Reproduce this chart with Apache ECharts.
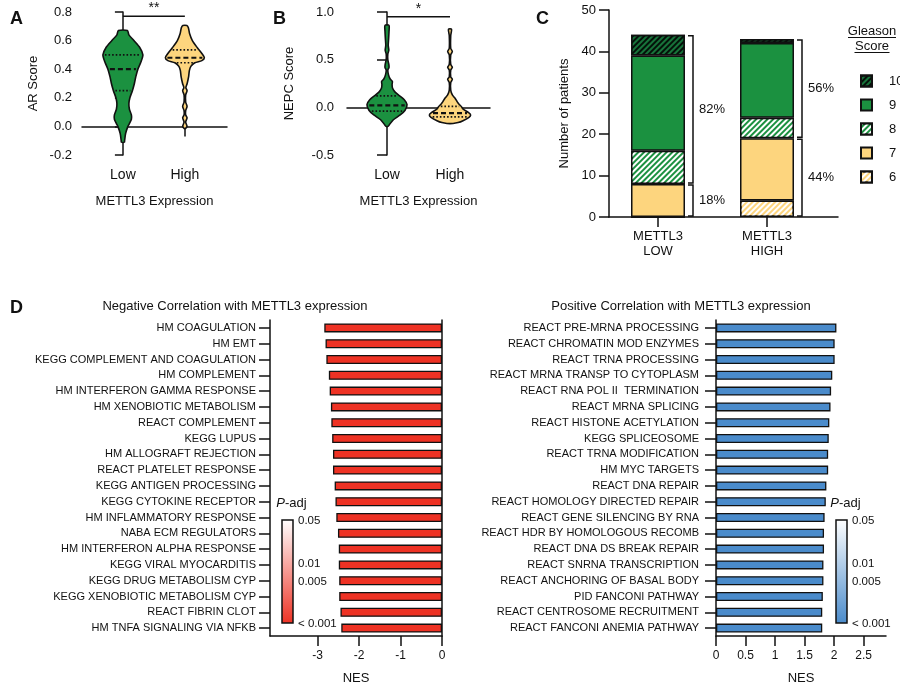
<!DOCTYPE html>
<html><head><meta charset="utf-8">
<script src="https://cdn.jsdelivr.net/npm/echarts@6/dist/echarts.min.js"></script>
<style>html,body{margin:0;padding:0;background:#fff}#c{width:900px;height:688px}</style>
</head><body><div id="c"></div>
<script>
// ---------- DATA ----------
const violinGroups = ['Low', 'High'];
// violin profiles: [score, relative density]
const arLowProfile = [[0.67,4.5],[0.64,6],[0.6,11],[0.55,17],[0.5,20],[0.45,18],[0.4,15],[0.35,13],[0.3,11.5],[0.25,9.5],[0.2,7],[0.16,6],[0.12,6.5],[0.08,8.5],[0.05,8.5],[0.02,6.5],[0.0,5],[-0.05,2.7],[-0.1,1.7],[-0.11,1.5]];
const arHighProfile = [[0.705,2],[0.69,3.5],[0.65,4.7],[0.6,7.5],[0.55,12.5],[0.51,17],[0.48,19.5],[0.46,17],[0.445,10],[0.42,6],[0.39,4.5],[0.35,3.8],[0.3,2.3],[0.27,1],[0.25,2.2],[0.22,0.8],[0.17,0.8],[0.14,2.2],[0.11,0.8],[0.08,0.8],[0.06,2.2],[0.03,0.8],[0.0,2.2],[-0.015,0.5]];
const arQuartiles = [[0.25,0.40,0.50],[0.445,0.48,0.535]];
const nepcLowProfile = [[0.86,2],[0.8,2],[0.72,1.6],[0.65,1.2],[0.6,1.8],[0.56,0.8],[0.5,0.8],[0.45,1.8],[0.42,2],[0.39,0.8],[0.34,1.5],[0.3,3],[0.27,5.3],[0.24,5],[0.2,5.5],[0.16,8],[0.12,12.5],[0.08,17],[0.03,19.7],[-0.03,17.8],[-0.08,13],[-0.13,6.3],[-0.18,2.5],[-0.2,1]];
const nepcHighProfile = [[0.82,1.5],[0.75,0.7],[0.62,0.7],[0.585,2.3],[0.55,0.7],[0.45,0.7],[0.42,2.3],[0.39,0.7],[0.32,0.7],[0.294,2.3],[0.26,0.7],[0.18,0.7],[0.13,2.3],[0.095,5],[0.06,7],[0.035,8.7],[0.007,11.3],[-0.02,13],[-0.055,18.3],[-0.08,20.3],[-0.105,18.7],[-0.14,12.8],[-0.16,8],[-0.17,3]];
const nepcQuartiles = [[-0.04,0.02,0.12],[-0.1,-0.06,0.01]];
const arSig = [[0, 1, 0.77]];
const arSigLabel = ['**'];
const nepcSig = [[0, 1, 0.95]];
const nepcSigLabel = ['*'];

const gleasonGroups = ['METTL3\nLOW', 'METTL3\nHIGH'];
const gleasonScores = ['6', '7', '8', '9', '10'];
const gleason6 = [0, 4];
const gleason7 = [8, 15];
const gleason8 = [8, 5];
const gleason9 = [23, 18];
const gleason10 = [5, 1];
// brackets: [group, from, to]
const gleasonBrackets = [[0, 8, 44], [0, 0, 8], [1, 19, 43], [1, 0, 19]];
const gleasonBracketLabels = ['82%', '18%', '56%', '44%'];

const negTerms = ['HM COAGULATION','HM EMT','KEGG COMPLEMENT AND COAGULATION','HM COMPLEMENT','HM INTERFERON GAMMA RESPONSE','HM XENOBIOTIC METABOLISM','REACT COMPLEMENT','KEGG LUPUS','HM ALLOGRAFT REJECTION','REACT PLATELET RESPONSE','KEGG ANTIGEN PROCESSING','KEGG CYTOKINE RECEPTOR','HM INFLAMMATORY RESPONSE','NABA ECM REGULATORS','HM INTERFERON ALPHA RESPONSE','KEGG VIRAL MYOCARDITIS','KEGG DRUG METABOLISM CYP','KEGG XENOBIOTIC METABOLISM CYP','REACT FIBRIN CLOT','HM TNFA SIGNALING VIA NFKB'];
const negNES = [-2.84,-2.81,-2.79,-2.73,-2.71,-2.68,-2.67,-2.65,-2.63,-2.63,-2.59,-2.57,-2.55,-2.51,-2.49,-2.49,-2.48,-2.48,-2.45,-2.43];
const posTerms = ['REACT PRE-MRNA PROCESSING','REACT CHROMATIN MOD ENZYMES','REACT TRNA PROCESSING','REACT MRNA TRANSP TO CYTOPLASM','REACT RNA POL II  TERMINATION','REACT MRNA SPLICING','REACT HISTONE ACETYLATION','KEGG SPLICEOSOME','REACT TRNA MODIFICATION','HM MYC TARGETS','REACT DNA REPAIR','REACT HOMOLOGY DIRECTED REPAIR','REACT GENE SILENCING BY RNA','REACT HDR BY HOMOLOGOUS RECOMB','REACT DNA DS BREAK REPAIR','REACT SNRNA TRANSCRIPTION','REACT ANCHORING OF BASAL BODY','PID FANCONI PATHWAY','REACT CENTROSOME RECRUITMENT','REACT FANCONI ANEMIA PATHWAY'];
const posNES = [2.04,2.01,2.01,1.97,1.95,1.94,1.92,1.91,1.90,1.90,1.87,1.86,1.84,1.83,1.83,1.82,1.82,1.81,1.80,1.80];
const pAdjTicks = [0.05, 0.01, 0.005, 0.001];
const pAdjTickLabels = ['0.05', '0.01', '0.005', '< 0.001'];

// ---------- STYLE ----------
const FONT = 'Liberation Sans, Arial, Helvetica, sans-serif';
const INK = '#111';
const GREEN = '#1b9140';
const DKGREEN = '#17733a';
const YELLOW = '#fdd57e';
const RED = '#ee3224';
const BLUE = '#4a8bcb';
const densityScale = 1 / 62;
const cBarWidth = 54;

const chart = echarts.init(document.getElementById('c'), null, {renderer: 'canvas'});

function interpWidth(prof, y) {
  for (let i = 0; i < prof.length - 1; i++) {
    const a = prof[i], b = prof[i + 1];
    if (y <= a[0] && y >= b[0]) {
      const t = (a[0] - y) / (a[0] - b[0]);
      return a[1] + t * (b[1] - a[1]);
    }
  }
  return 0;
}
function violinRender(profiles, quartiles, colors) {
  return function (params, api) {
    const idx = api.value(0);
    const prof = profiles[idx];
    const right = prof.map(p => api.coord([idx + p[1] * densityScale, p[0]]));
    const left = prof.slice().reverse().map(p => api.coord([idx - p[1] * densityScale, p[0]]));
    const children = [{
      type: 'polygon', shape: {points: right.concat(left), smooth: 0.25},
      style: {fill: colors[idx], stroke: INK, lineWidth: 1.6}
    }];
    quartiles[idx].forEach((q, k) => {
      const hw = interpWidth(prof, q) * densityScale;
      const a = api.coord([idx - hw, q]), b = api.coord([idx + hw, q]);
      children.push({
        type: 'line', shape: {x1: a[0] + 2, y1: a[1], x2: b[0] - 2, y2: b[1]},
        style: {stroke: INK, lineWidth: k === 1 ? 2.2 : 1.6, lineDash: k === 1 ? [5, 3] : [1.6, 2]}
      });
    });
    return {type: 'group', children};
  };
}
function sigRender(labels) {
  return function (params, api) {
    const a = api.coord([api.value(0), api.value(2)]);
    const b = api.coord([api.value(1), api.value(2)]);
    return {type: 'group', children: [
      {type: 'line', shape: {x1: a[0], y1: a[1], x2: b[0], y2: b[1]}, style: {stroke: INK, lineWidth: 1.5}},
      {type: 'text', style: {text: labels[params.dataIndex], x: (a[0] + b[0]) / 2, y: a[1] - 1, align: 'center', verticalAlign: 'bottom', fontSize: 14, fontFamily: FONT, fill: INK}}
    ]};
  };
}
function bracketRender(params, api) {
  const g = api.value(0);
  const top = api.coord([g, api.value(2)]);
  const bot = api.coord([g, api.value(1)]);
  const x = top[0] + cBarWidth / 2 + 8;
  const y1 = top[1] + 1, y2 = bot[1] - 1;
  return {type: 'group', children: [
    {type: 'polyline', shape: {points: [[x - 5, y1], [x, y1], [x, y2], [x - 5, y2]]}, style: {stroke: INK, lineWidth: 1.5, fill: null}},
    {type: 'text', style: {text: gleasonBracketLabels[params.dataIndex], x: x + 6, y: (y1 + y2) / 2, align: 'left', verticalAlign: 'middle', fontSize: 13, fontFamily: FONT, fill: INK}}
  ]};
}

const axisLineStyle = {show: true, lineStyle: {color: INK, width: 1.5}};
const tickStyle = (len) => ({show: true, length: len, lineStyle: {color: INK, width: 1.5}});
const labelStyle = (size, margin) => ({color: INK, fontSize: size, fontFamily: FONT, margin});
const nameStyle = {color: INK, fontSize: 13, fontFamily: FONT};

function stripeDecal(color) {
  return {symbol: 'rect', symbolSize: 1, color, dashArrayX: [1, 0], dashArrayY: [2, 2], rotation: -Math.PI / 4};
}

const gleasonSeriesStyle = {
  '6': {color: YELLOW, decal: stripeDecal('#ffffff')},
  '7': {color: YELLOW},
  '8': {color: GREEN, decal: stripeDecal('#ffffff')},
  '9': {color: GREEN},
  '10': {color: DKGREEN, decal: stripeDecal('rgba(0,0,0,0.85)')}
};
const gleasonData = {'6': gleason6, '7': gleason7, '8': gleason8, '9': gleason9, '10': gleason10};

function colorbar(x, y, w, h, color) {
  const lmin = Math.log10(pAdjTicks[0]), lmax = Math.log10(pAdjTicks[pAdjTicks.length - 1]);
  const els = [{
    type: 'rect', shape: {x, y, width: w, height: h},
    style: {fill: new echarts.graphic.LinearGradient(0, 0, 0, 1, [{offset: 0, color: '#ffffff'}, {offset: 1, color}]), stroke: INK, lineWidth: 1.5}
  }, {
    type: 'text', x: x + w / 2 + 4, y: y - 17,
    style: {text: '{i|P}-adj', align: 'center', verticalAlign: 'middle', fontSize: 13, fontFamily: FONT, fill: INK, rich: {i: {fontStyle: 'italic', fontSize: 13, fontFamily: FONT}}}
  }];
  pAdjTicks.forEach((p, i) => {
    const f = (lmin - Math.log10(p)) / (lmin - lmax);
    els.push({type: 'text', x: x + w + 5, y: y + f * h + 1,
      style: {text: pAdjTickLabels[i], align: 'left', verticalAlign: 'middle', fontSize: 11.5, fontFamily: FONT, fill: INK}});
  });
  return els;
}

const hidden = {show: false};
const option = {
  animation: false,
  backgroundColor: '#fff',
  textStyle: {fontFamily: FONT},
  title: [
    {text: 'A', left: 5, top: 5, textStyle: {fontSize: 18, fontWeight: 'bold', color: INK, fontFamily: FONT}},
    {text: 'B', left: 268, top: 5, textStyle: {fontSize: 18, fontWeight: 'bold', color: INK, fontFamily: FONT}},
    {text: 'C', left: 531, top: 5, textStyle: {fontSize: 18, fontWeight: 'bold', color: INK, fontFamily: FONT}},
    {text: 'D', left: 5, top: 294, textStyle: {fontSize: 18, fontWeight: 'bold', color: INK, fontFamily: FONT}},
    {text: 'Negative Correlation with METTL3 expression', left: 230, top: 295, textAlign: 'center', textStyle: {fontSize: 13, fontWeight: 'normal', color: INK, fontFamily: FONT}},
    {text: 'Positive Correlation with METTL3 expression', left: 676, top: 295, textAlign: 'center', textStyle: {fontSize: 13, fontWeight: 'normal', color: INK, fontFamily: FONT}}
  ],
  legend: {
    data: ['10', '9', '8', '7', '6'], orient: 'vertical', left: 855, top: 69.5,
    itemWidth: 11, itemHeight: 11, itemGap: 11, icon: 'rect', selectedMode: false,
    textStyle: {fontSize: 13, color: INK, fontFamily: FONT, padding: [0, 0, 0, 12]}
  },
  grid: [
    {left: 82, top: 12, width: 145, height: 143},
    {left: 347, top: 12, width: 143, height: 143},
    {left: 609, top: 10, width: 229, height: 207},
    {left: 270, top: 320, width: 172, height: 316},
    {left: 716, top: 320, width: 170, height: 316},
    {left: 603.5, top: 10, width: 218, height: 207}
  ],
  xAxis: [
    {gridIndex: 0, type: 'value', min: -0.66, max: 1.68, axisLine: axisLineStyle, splitLine: hidden,
      axisTick: Object.assign(tickStyle(10), {customValues: [0, 1]}),
      axisLabel: Object.assign(labelStyle(14, 13), {customValues: [0, 1], formatter: v => violinGroups[v]}),
      name: 'METTL3 Expression', nameLocation: 'middle', nameGap: 40, nameTextStyle: nameStyle},
    {gridIndex: 1, type: 'value', min: -0.635, max: 1.635, axisLine: axisLineStyle, splitLine: hidden,
      axisTick: Object.assign(tickStyle(10), {customValues: [0, 1]}),
      axisLabel: Object.assign(labelStyle(14, 13), {customValues: [0, 1], formatter: v => violinGroups[v]}),
      name: 'METTL3 Expression', nameLocation: 'middle', nameGap: 40, nameTextStyle: nameStyle},
    {gridIndex: 2, type: 'value', min: 0, max: 1, axisLine: axisLineStyle, splitLine: hidden, axisTick: hidden, axisLabel: hidden},
    {gridIndex: 3, type: 'value', min: -4.15, max: 0, axisLine: axisLineStyle, splitLine: hidden,
      axisTick: Object.assign(tickStyle(10), {customValues: [-3, -2, -1, 0]}),
      axisLabel: Object.assign(labelStyle(12, 14), {customValues: [-3, -2, -1, 0]}),
      name: 'NES', nameLocation: 'middle', nameGap: 36, nameTextStyle: nameStyle},
    {gridIndex: 4, type: 'value', min: 0, max: 2.88, axisLine: axisLineStyle, splitLine: hidden,
      axisTick: Object.assign(tickStyle(10), {customValues: [0, 0.5, 1, 1.5, 2, 2.5]}),
      axisLabel: Object.assign(labelStyle(12, 14), {customValues: [0, 0.5, 1, 1.5, 2, 2.5]}),
      name: 'NES', nameLocation: 'middle', nameGap: 36, nameTextStyle: nameStyle},
    {gridIndex: 5, type: 'category', data: gleasonGroups, axisLine: hidden, splitLine: hidden,
      axisTick: Object.assign(tickStyle(10), {alignWithLabel: true}),
      axisLabel: Object.assign(labelStyle(13, 12), {lineHeight: 15})}
  ],
  yAxis: [
    {gridIndex: 0, type: 'value', min: -0.2, max: 0.8, interval: 0.2, axisLine: axisLineStyle, axisTick: tickStyle(8),
      splitLine: hidden, axisLabel: Object.assign(labelStyle(13, 10), {formatter: v => v.toFixed(1)}),
      name: 'AR Score', nameLocation: 'middle', nameGap: 42, nameTextStyle: nameStyle},
    {gridIndex: 1, type: 'value', min: -0.5, max: 1.0, interval: 0.5, axisLine: axisLineStyle, axisTick: tickStyle(10),
      splitLine: hidden, axisLabel: Object.assign(labelStyle(13, 13), {formatter: v => v.toFixed(1)}),
      name: 'NEPC Score', nameLocation: 'middle', nameGap: 51, nameTextStyle: nameStyle},
    {gridIndex: 2, type: 'value', min: 0, max: 50, interval: 10, axisLine: axisLineStyle, axisTick: tickStyle(10),
      splitLine: hidden, axisLabel: labelStyle(13, 13),
      name: 'Number of patients', nameLocation: 'middle', nameGap: 38, nameTextStyle: nameStyle},
    {gridIndex: 3, type: 'category', inverse: true, data: negTerms, axisLine: Object.assign({onZero: false}, axisLineStyle),
      axisTick: Object.assign(tickStyle(11), {alignWithLabel: true}), axisLabel: labelStyle(11, 14)},
    {gridIndex: 4, type: 'category', inverse: true, data: posTerms, axisLine: Object.assign({onZero: false}, axisLineStyle),
      axisTick: Object.assign(tickStyle(11), {alignWithLabel: true}), axisLabel: labelStyle(11, 17)},
    {gridIndex: 3, type: 'category', inverse: true, data: negTerms, position: 'right',
      axisLine: Object.assign({onZero: false}, axisLineStyle), axisTick: hidden, axisLabel: hidden},
    {gridIndex: 5, type: 'value', min: 0, max: 50, axisLine: hidden, axisTick: hidden, axisLabel: hidden, splitLine: hidden}
  ],
  series: [
    {type: 'custom', xAxisIndex: 0, yAxisIndex: 0, data: [[0], [1]], encode: {x: 0},
      renderItem: violinRender([arLowProfile, arHighProfile], arQuartiles, [GREEN, YELLOW])},
    {type: 'custom', xAxisIndex: 1, yAxisIndex: 1, data: [[0], [1]], encode: {x: 0},
      renderItem: violinRender([nepcLowProfile, nepcHighProfile], nepcQuartiles, [GREEN, YELLOW])},
    {type: 'custom', xAxisIndex: 0, yAxisIndex: 0, data: arSig, encode: {x: [0, 1], y: 2}, renderItem: sigRender(arSigLabel)},
    {type: 'custom', xAxisIndex: 1, yAxisIndex: 1, data: nepcSig, encode: {x: [0, 1], y: 2}, renderItem: sigRender(nepcSigLabel)},
    ...gleasonScores.map(s => ({
      name: s, type: 'bar', stack: 'gleason', xAxisIndex: 5, yAxisIndex: 6, barWidth: cBarWidth,
      data: gleasonData[s],
      itemStyle: Object.assign({borderColor: INK, borderWidth: 1.5}, gleasonSeriesStyle[s])
    })),
    {type: 'custom', xAxisIndex: 5, yAxisIndex: 6, data: gleasonBrackets, encode: {x: 0, y: [1, 2]}, renderItem: bracketRender},
    {type: 'bar', xAxisIndex: 3, yAxisIndex: 3, data: negNES, barWidth: 9,
      itemStyle: {color: RED, borderColor: INK, borderWidth: 1.3}},
    {type: 'bar', xAxisIndex: 4, yAxisIndex: 4, data: posNES, barWidth: 9,
      itemStyle: {color: BLUE, borderColor: INK, borderWidth: 1.3}}
  ],
  graphic: [
    ...colorbar(282, 520, 11, 103, RED),
    ...colorbar(836, 520, 11, 103, BLUE),
    {type: 'text', x: 872, y: 24, style: {text: 'Gleason\nScore', align: 'center', verticalAlign: 'top', fontSize: 13, lineHeight: 15, fontFamily: FONT, fill: INK}},
    {type: 'line', shape: {x1: 848, y1: 37.5, x2: 896, y2: 37.5}, style: {stroke: INK, lineWidth: 1}},
    {type: 'line', shape: {x1: 854.5, y1: 52.5, x2: 889.5, y2: 52.5}, style: {stroke: INK, lineWidth: 1}}
  ]
};
chart.setOption(option);
</script>
</body></html>
